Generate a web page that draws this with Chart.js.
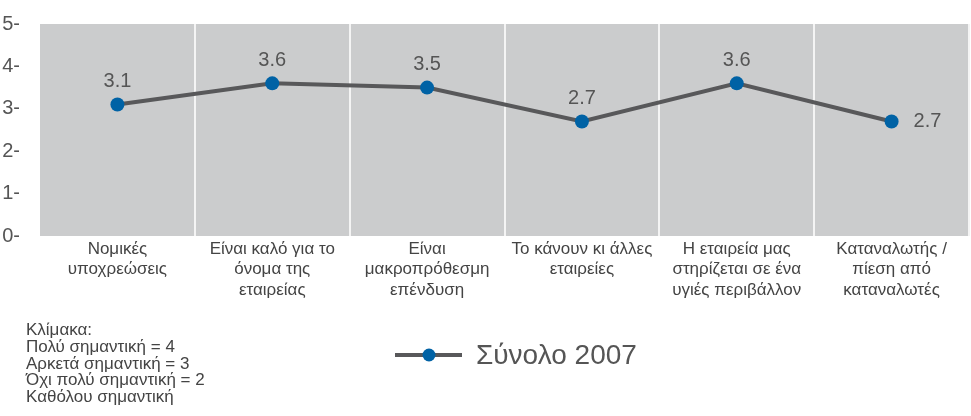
<!DOCTYPE html>
<html><head><meta charset="utf-8">
<script src="https://cdn.jsdelivr.net/npm/chart.js@4.4.1/dist/chart.umd.min.js"></script>
<style>
html,body{margin:0;padding:0;background:#fff;overflow:hidden;width:971px;height:416px;}
#wrap{position:relative;width:976px;height:416px;}
#notes{position:absolute;left:26px;top:322px;font:17px "Liberation Sans",Arial,sans-serif;color:#444;line-height:16.8px;white-space:nowrap;}
</style></head><body>
<div id="wrap"><canvas id="c"></canvas><div id="notes"></div></div>
<script>
const categories = [
  ["Νομικές","υποχρεώσεις"],
  ["Είναι καλό για το","όνομα της","εταιρείας"],
  ["Είναι","μακροπρόθεσμη","επένδυση"],
  ["Το κάνουν κι άλλες","εταιρείες"],
  ["Η εταιρεία μας","στηρίζεται σε ένα","υγιές περιβάλλον"],
  ["Καταναλωτής /","πίεση από","καταναλωτές"]
];
const values2007 = [3.1, 3.6, 3.5, 2.7, 3.6, 2.7];
const yTicks = [0, 1, 2, 3, 4, 5];
const seriesName = "Σύνολο 2007";
const scaleNotes = ["Κλίμακα:","Πολύ σημαντική = 4","Αρκετά σημαντική = 3","Όχι πολύ σημαντική = 2","Καθόλου σημαντική"];

document.getElementById('notes').innerHTML = scaleNotes.join('<br>');

const FONT = '"Liberation Sans", Arial, sans-serif';
const LINE_COLOR = '#58585a';
const POINT_COLOR = '#0062a5';

const bgPlugin = {
  id: 'bg',
  beforeDraw(chart) {
    const {ctx, chartArea: a} = chart;
    ctx.save();
    ctx.fillStyle = '#cbcccd';
    ctx.fillRect(a.left, a.top, a.right - a.left, a.bottom - a.top);
    ctx.restore();
  }
};

const labelPlugin = {
  id: 'valueLabels',
  afterDatasetsDraw(chart) {
    const {ctx} = chart;
    const meta = chart.getDatasetMeta(0);
    const data = chart.data.datasets[0].data;
    ctx.save();
    ctx.font = '20px ' + FONT;
    ctx.fillStyle = '#555';
    ctx.textBaseline = 'middle';
    meta.data.forEach((pt, i) => {
      const txt = data[i].toFixed(1);
      if (i === meta.data.length - 1) {
        ctx.textAlign = 'left';
        ctx.fillText(txt, pt.x + 22, pt.y);
      } else {
        ctx.textAlign = 'center';
        ctx.fillText(txt, pt.x, pt.y - 23);
      }
    });
    ctx.restore();
  }
};

const legendPlugin = {
  id: 'customLegend',
  afterDraw(chart) {
    const {ctx} = chart;
    const ds = chart.data.datasets[0];
    const y = 355;
    ctx.save();
    ctx.strokeStyle = ds.borderColor;
    ctx.lineWidth = ds.borderWidth;
    ctx.beginPath();
    ctx.moveTo(395, y); ctx.lineTo(462, y);
    ctx.stroke();
    ctx.fillStyle = ds.pointBackgroundColor;
    ctx.beginPath();
    ctx.arc(429, y, 6.5, 0, Math.PI * 2);
    ctx.fill();
    ctx.font = '28px ' + FONT;
    ctx.fillStyle = '#555';
    ctx.textAlign = 'left';
    ctx.textBaseline = 'middle';
    ctx.fillText(ds.label, 476, y + 1);
    ctx.restore();
  }
};

new Chart(document.getElementById('c'), {
  type: 'line',
  data: {
    labels: categories,
    datasets: [{
      label: seriesName,
      data: values2007,
      borderColor: LINE_COLOR,
      borderWidth: 4,
      tension: 0,
      pointRadius: 7,
      pointHoverRadius: 7,
      pointBackgroundColor: POINT_COLOR,
      pointBorderWidth: 0
    }]
  },
  options: {
    responsive: true,
    maintainAspectRatio: false,
    animation: false,
    events: [],
    layout: { padding: { top: 23, left: 0, right: 0, bottom: 0 } },
    plugins: { legend: { display: false }, tooltip: { enabled: false } },
    scales: {
      x: {
        type: 'category',
        offset: true,
        afterFit(s) { s.height = 416 - 236; },
        grid: {
          offset: true,
          drawTicks: false,
          lineWidth: 2,
          color: (c) => (c.index === 0 ? 'rgba(0,0,0,0)' : '#f4f4f4')
        },
        border: { display: false },
        ticks: {
          autoSkip: false,
          maxRotation: 0,
          padding: 3,
          color: '#444',
          font: { family: FONT, size: 17, lineHeight: 1.2 }
        }
      },
      y: {
        min: 0,
        max: 5,
        afterFit(s) { s.width = 40; },
        afterBuildTicks(s) { s.ticks = yTicks.map(v => ({ value: v })); },
        grid: { display: false },
        border: { display: false },
        ticks: {
          padding: 12,
          color: '#555',
          font: { family: FONT, size: 20 },
          callback: (v) => v + '-'
        }
      }
    }
  },
  plugins: [bgPlugin, labelPlugin, legendPlugin]
});
</script>
</body></html>
